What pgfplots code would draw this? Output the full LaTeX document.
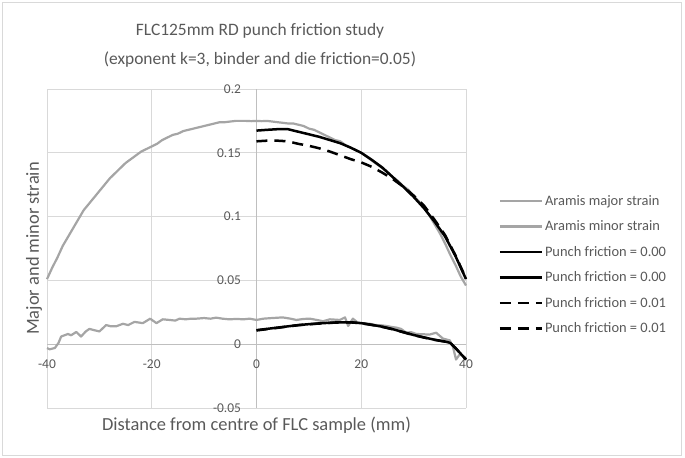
\documentclass[border=0pt]{standalone}
\usepackage{pgfplots}
\pgfplotsset{compat=1.18}
\usepackage{fontspec}
\setmainfont{Carlito}
\definecolor{txt}{HTML}{595959}
\definecolor{grd}{HTML}{D9D9D9}
\definecolor{axl}{HTML}{BFBFBF}
\definecolor{ser}{HTML}{A5A5A5}
\pgfplotsset{
  mylegimg/.style={legend image code/.code={\draw[##1] (0bp,0bp) -- (42bp,0bp);}}
}
\begin{document}
\begin{tikzpicture}
\useasboundingbox (0,0) rectangle (685bp,458bp);
\draw[grd, line width=0.8bp] (2bp,3bp) rectangle (681bp,456bp);
\node[txt, font=\fontsize{17.5}{29}\selectfont, align=center, anchor=center, inner sep=0pt] at (260bp,413bp)
  {FLC125mm RD punch friction study\\(exponent k=3, binder and die friction=0.05)};
\begin{axis}[
  at={(47bp,50bp)}, anchor=south west, scale only axis,
  width=419bp, height=319bp,
  xmin=-40, xmax=40, ymin=-0.05, ymax=0.2,
  xtick={-40,-20,0,20,40}, ytick={-0.05,0,0.05,0.1,0.15,0.2},
  axis lines=middle, axis line style={-, draw=axl, line width=0.8bp},
  grid=major, grid style={grd, line width=0.8bp},
  major tick length=0,
  hide obscured x ticks=false, hide obscured y ticks=false,
  tick label style={txt, font=\fontsize{13.5}{15}\selectfont},
  /pgf/number format/assume math mode=true,
  yticklabel style={/pgf/number format/fixed, /pgf/number format/precision=2, xshift=-12bp},
  xticklabel style={yshift=-12bp},
  xlabel={Distance from centre of FLC sample (mm)},
  ylabel={Major and minor strain},
  x label style={at={(axis description cs:0.5,-0.054)}, anchor=center, txt, font=\fontsize{18.5}{21}\selectfont},
  y label style={at={(axis description cs:-0.031,0.5)}, anchor=center, rotate=90, txt, font=\fontsize{18.5}{21}\selectfont},
  mylegimg,
  legend cell align=left,
  legend style={at={(axis description cs:1.07,0.68)}, anchor=north west, draw=none, fill=none,
    font=\fontsize{14.5}{17}\selectfont, text=txt, row sep=10bp},
  clip=false,
  line join=round,
]
\addplot[ser, line width=2.2bp] coordinates {
(-40,0.051) (-39,0.060) (-38,0.068) (-37,0.077) (-36,0.084) (-35,0.091) (-34,0.098) (-33,0.105)
(-32,0.110) (-31,0.115) (-30,0.120) (-29,0.125) (-28,0.130) (-27,0.134) (-26,0.138) (-25,0.142)
(-24,0.145) (-23,0.148) (-22,0.151) (-21,0.153) (-20,0.155) (-19,0.157) (-18,0.160) (-17,0.162)
(-16,0.164) (-15,0.165) (-14,0.167) (-13,0.168) (-12,0.169) (-11,0.170) (-10,0.171) (-9,0.172)
(-8,0.173) (-7,0.174) (-6,0.174) (-5,0.1745) (-4,0.175) (-3,0.175) (-2,0.175) (-1,0.1748)
(0,0.175) (1,0.1748) (2,0.175) (3,0.1745) (4,0.174) (5,0.1735) (6,0.173) (7,0.173) (8,0.172)
(9,0.171) (10,0.169) (11,0.168) (12,0.166) (13,0.164) (14,0.162) (15,0.160) (16,0.159) (17,0.156)
(18,0.154) (19,0.152) (20,0.150) (21,0.147) (22,0.144) (23,0.141) (24,0.138) (25,0.135) (26,0.131)
(27,0.128) (28,0.124) (29,0.121) (30,0.116) (31,0.112) (32,0.107) (33,0.101) (34,0.094) (35,0.087)
(36,0.079) (37,0.070) (38,0.062) (39,0.053) (40,0.046)
};
\addlegendentry{Aramis major strain}
\addplot[ser, line width=2.2bp] coordinates {
(-40,-0.003) (-39.5,-0.004) (-38.5,-0.003) (-37.8,0.001) (-37.3,0.006) (-36,0.008) (-35.4,0.007)
(-34.4,0.0096) (-33.5,0.006) (-32.6,0.010) (-31.9,0.012) (-31,0.011) (-30,0.010) (-28.7,0.015)
(-27.8,0.014) (-26.8,0.014) (-25.5,0.016) (-24.5,0.015) (-23.3,0.0175) (-22.5,0.017) (-21.7,0.0165)
(-20.3,0.020) (-19.1,0.0165) (-17.9,0.0195) (-16.6,0.019) (-15.5,0.0185) (-14.7,0.020) (-13.5,0.0195)
(-12.5,0.020) (-11.5,0.020) (-10,0.0205) (-8.8,0.020) (-7.7,0.0208) (-6.5,0.020) (-5.2,0.0195)
(-3.8,0.0198) (-2.5,0.0195) (-1.3,0.020) (0,0.019) (1.3,0.020) (3,0.0205) (5,0.021) (6.5,0.020)
(7.6,0.019) (9,0.0198) (10.2,0.020) (11.5,0.019) (12.7,0.018) (14,0.0195) (15.9,0.019) (16.9,0.021)
(17.5,0.0143) (18.4,0.020) (19.4,0.0167) (20.3,0.0164) (21.6,0.016) (22.8,0.015) (23.8,0.0148)
(24.8,0.0143) (25.8,0.0135) (26.7,0.013) (27.6,0.012) (28.6,0.009) (29.5,0.0095) (30.5,0.008)
(31.8,0.0078) (33,0.0075) (34.3,0.009) (35.6,0.0044) (36.9,0.003) (37.5,-0.002) (38.1,-0.012)
(38.8,-0.008) (39.7,-0.010) (40,-0.011)
};
\addlegendentry{Aramis minor strain}
\addplot[black, line width=2.5bp] coordinates {
(0,0.1674) (2,0.168) (4,0.1685) (6,0.1685) (8,0.1665) (10,0.1645) (12,0.1625) (14,0.160)
(16,0.1575) (18,0.154) (20,0.150) (22,0.1445) (24,0.1385) (26,0.131) (28,0.1235) (30,0.1155)
(32,0.1065) (34,0.096) (36,0.0845) (38,0.069) (40,0.051)
};
\addlegendentry{Punch friction = 0.00}
\addplot[black, line width=2.5bp] coordinates {
(0,0.011) (2,0.012) (4,0.013) (6,0.014) (8,0.015) (10,0.0157) (12,0.0163) (14,0.0168) (16,0.0172)
(18,0.0172) (20,0.0165) (22,0.0152) (24,0.0137) (26,0.0118) (28,0.0095) (30,0.0072) (32,0.0053)
(34,0.0035) (36,0.0021) (37,0.0010) (38,-0.003) (39,-0.0075) (40,-0.012)
};
\addlegendentry{Punch friction = 0.00}
\addplot[black, line width=2.5bp, dash pattern=on 11bp off 7bp] coordinates {
(0,0.159) (2,0.1595) (4,0.1595) (6,0.159) (8,0.157) (10,0.1555) (12,0.1535) (14,0.151) (16,0.148)
(18,0.145) (20,0.1425) (22,0.139) (24,0.1345) (26,0.1295) (28,0.1235) (30,0.1165) (32,0.1085)
(34,0.0975) (36,0.0855) (38,0.0695) (40,0.0515)
};
\addlegendentry{Punch friction = 0.01}
\addplot[black, line width=2.5bp, dash pattern=on 11bp off 7bp] coordinates {
(0,0.0108) (2,0.0118) (4,0.0128) (6,0.0139) (8,0.0149) (10,0.0156) (12,0.0162) (14,0.0167) (16,0.0171)
(18,0.0171) (20,0.0164) (22,0.0151) (24,0.0136) (26,0.0117) (28,0.0094) (30,0.0071) (32,0.0052)
(34,0.0034) (36,0.0020) (37,0.0009) (38,-0.0031) (39,-0.0076) (40,-0.0121)
};
\addlegendentry{Punch friction = 0.01}
\end{axis}
\end{tikzpicture}
\end{document}
